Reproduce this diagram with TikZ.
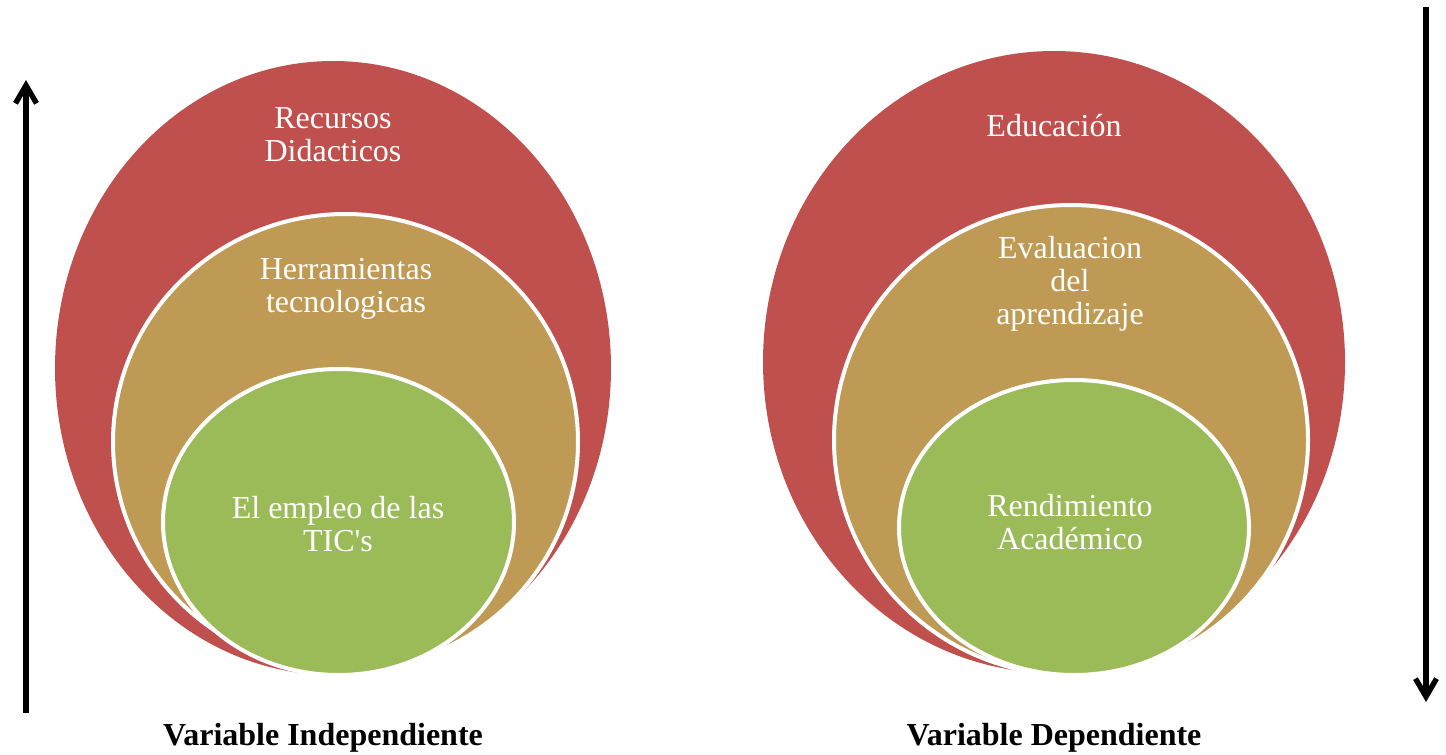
\documentclass[tikz,border=0pt]{standalone}
\usepackage{fontspec}
\setmainfont{Liberation Serif}[Ligatures=TeXOff]
\usetikzlibrary{shapes.geometric,arrows.meta}
\definecolor{cred}{HTML}{C0504D}
\definecolor{ctan}{HTML}{BE9A54}
\definecolor{cgreen}{HTML}{9BBB59}
\tikzset{
  ring/.style={ellipse, inner sep=0pt, outer sep=0pt, draw=white, line width=2pt},
  lbl/.style={text=white, align=center, inner sep=0pt, font=\fontsize{16}{16.5}\selectfont},
  caption/.style={anchor=base, inner sep=0pt, font=\fontsize{16}{16.5}\selectfont\bfseries},
  bigarrow/.style={line width=2.7pt, -{Straight Barb[length=9pt,width=10.5pt]}}
}
\begin{document}
\begin{tikzpicture}[x=0.5pt,y=-0.5pt]
\useasboundingbox (0,0) rectangle (1446,755);
% left group
\node[ellipse, fill=cred, inner sep=0pt, minimum width=278pt, minimum height=307pt] (r1) at (333,368) {};
\node[ring, fill=ctan, minimum width=232.5pt, minimum height=228pt] (t1) at (345.5,442) {};
\node[ring, fill=cgreen, minimum width=175.5pt, minimum height=153pt] (g1) at (338.5,522) {};
\node[lbl] (r1t) at (333,135) {Recursos\\Didacticos};
\node[lbl] (t1t) at (346,289) {Herramientas\\tecnologicas};
\node[lbl] (g1t) at (338,524) {El empleo de las\\TIC's};
% right group
\node[ellipse, fill=cred, inner sep=0pt, minimum width=291pt, minimum height=311pt] (r2) at (1054,362) {};
\node[ring, fill=ctan, minimum width=237pt, minimum height=235pt] (t2) at (1071,440) {};
\node[ring, fill=cgreen, minimum width=175pt, minimum height=147.5pt] (g2) at (1074,527.5) {};
\node[lbl] (r2t) at (1054,126) {Educación};
\node[lbl] (t2t) at (1070,284) {Evaluacion\\del\\aprendizaje};
\node[lbl] (g2t) at (1070,522) {Rendimiento\\Académico};
% captions
\node[caption] (c1) at (323,745) {Variable Independiente};
\node[caption] (c2) at (1054,745) {Variable Dependiente};
% arrows
\coordinate (a1s) at (26,713);
\coordinate (a1e) at (26,80);
\coordinate (a2s) at (1426,7);
\coordinate (a2e) at (1426,702);
\draw[bigarrow] (a1s) -- (a1e);
\draw[bigarrow] (a2s) -- (a2e);
\end{tikzpicture}
\end{document}
